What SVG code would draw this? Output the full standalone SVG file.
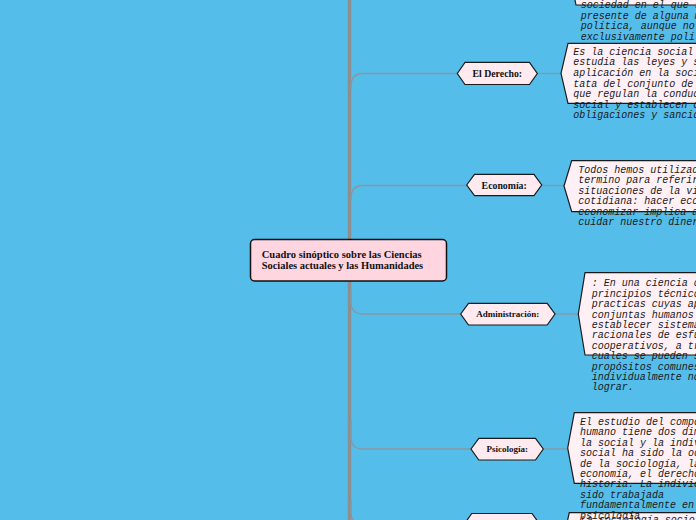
<svg xmlns="http://www.w3.org/2000/svg" width="696" height="520" viewBox="0 0 696 520">
<style>
.bg{fill:#55BDEA}
.trunk{stroke:#8e8e8e;stroke-width:3.5;fill:none}
.br{stroke:#8a97a0;stroke-width:1.3;fill:none}
.hex{fill:#FFEAF0;stroke:#1a1a1a;stroke-width:1.2}
.desc{fill:#FFF0F5;stroke:#1a1a1a;stroke-width:1.2}
.main{fill:#FFD5E0;stroke:#111;stroke-width:1.5}
.lbl{font-family:"Liberation Serif","Times New Roman",serif;font-weight:bold;fill:#111;text-anchor:middle}
.mt{font-family:"Liberation Serif","Times New Roman",serif;font-weight:bold;font-size:10.8px;fill:#111}
.tx{font-family:"Liberation Mono","Courier New",monospace;font-style:italic;font-size:10px;fill:#1a1a1a}
</style>
<rect class="bg" x="0" y="0" width="696" height="520"/>
<g id="connectors">
<line class="trunk" x1="349.5" y1="0" x2="349.5" y2="520"/>
<path class="br" d="M351,90 L351,86 Q351,73.5 363,73.5 H457.3"/>
<path class="br" d="M351,200 L351,198 Q351,185.5 363,185.5 H466.7"/>
<path class="br" d="M351,290 L351,302 Q351,314 363,314 H460.7"/>
<path class="br" d="M351,420 L351,437 Q351,449 363,449 H471"/>
<path class="br" d="M351,500 L351,512 Q351,524.5 363,524.5 H464"/>
<line class="br" x1="537.3" y1="73.5" x2="561" y2="73.5"/>
<line class="br" x1="541.7" y1="185.5" x2="564" y2="185.5"/>
<line class="br" x1="555" y1="314" x2="578.3" y2="314"/>
<line class="br" x1="543.3" y1="449" x2="567.7" y2="449"/>
<line class="br" x1="540" y1="524.5" x2="562" y2="524.5"/>
</g>
<g id="top-node">
<polygon class="desc" points="569,-30 576,-65 760,-65 760,5 576,5"/>
<text class="tx" x="580.7" y="7.7">sociedad en el que s<tspan x="580.7" dy="10.8">presente de alguna m</tspan><tspan x="580.7" dy="10.8">política, aunque no</tspan><tspan x="580.7" dy="10.8">exclusivamente polí</tspan></text>
</g>
<g id="central">
<rect class="main" x="250.5" y="239.5" width="196" height="41.5" rx="4"/>
<text class="mt" x="261.7" y="257.5" textLength="160" lengthAdjust="spacingAndGlyphs">Cuadro sinóptico sobre las Ciencias</text>
<text class="mt" x="261.7" y="268.9" textLength="161.5" lengthAdjust="spacingAndGlyphs">Sociales actuales y las Humanidades</text>
</g>
<g id="derecho">
<polygon class="hex" points="457.3,73.5 465,62.3 529.5,62.3 537.3,73.5 529.5,84.5 465,84.5"/>
<text class="lbl" x="497.3" y="77" font-size="9.8">El Derecho:</text>
<polygon class="desc" points="561,73.3 568,43.3 760,43.3 760,103.3 568,103.3"/>
<text class="tx" x="573.3" y="54.7">Es la ciencia social<tspan x="573.3" dy="10.6">estudia las leyes y s</tspan><tspan x="573.3" dy="10.6">aplicación en la soci</tspan><tspan x="573.3" dy="10.6">tata del conjunto de</tspan><tspan x="573.3" dy="10.6">que regulan la conduc</tspan><tspan x="573.3" dy="10.6">social y establecen o</tspan><tspan x="573.3" dy="10.6">obligaciones y sancio</tspan></text>
</g>
<g id="economia">
<polygon class="hex" points="466.7,185 474.5,174.3 534,174.3 541.7,185 534,195.7 474.5,195.7"/>
<text class="lbl" x="504.2" y="188.5" font-size="9.8">Economía:</text>
<polygon class="desc" points="564,186 571.7,160.7 760,160.7 760,211.7 571.7,211.7"/>
<text class="tx" x="578.3" y="173">Todos hemos utilizad<tspan x="578.3" dy="10.4">termino para referir</tspan><tspan x="578.3" dy="10.4">situaciones de la vi</tspan><tspan x="578.3" dy="10.4">cotidiana: hacer eco</tspan><tspan x="578.3" dy="10.4">economizar implica a</tspan><tspan x="578.3" dy="10.4">cuidar nuestro diner</tspan></text>
</g>
<g id="administracion">
<polygon class="hex" points="460.7,314 468.5,303.3 547.2,303.3 555,314 547.2,325 468.5,325"/>
<text class="lbl" x="507.8" y="317.3" font-size="9">Administración:</text>
<polygon class="desc" points="578.3,314 585,272.7 760,272.7 760,355 585,355"/>
<text class="tx" x="591.7" y="286.3">: En una ciencia c<tspan x="591.7" dy="10.4">principios técnico</tspan><tspan x="591.7" dy="10.4">practicas cuyas ap</tspan><tspan x="591.7" dy="10.4">conjuntas humanos</tspan><tspan x="591.7" dy="10.4">establecer sistema</tspan><tspan x="591.7" dy="10.4">racionales de esfu</tspan><tspan x="591.7" dy="10.4">cooperativos, a tr</tspan><tspan x="591.7" dy="10.4">cuales se pueden s</tspan><tspan x="591.7" dy="10.4">propósitos comunes</tspan><tspan x="591.7" dy="10.4">individualmente no</tspan><tspan x="591.7" dy="10.4">lograr.</tspan></text>
</g>
<g id="sociologia">
<polygon class="hex" points="464,524.5 471.7,513.5 532,513.5 540,524.5 532,535.5 471.7,535.5"/>
<polygon class="desc" points="562,545 569.3,512.7 760,512.7 760,580 569.3,580"/>
<text class="tx" x="580.7" y="523">La sociología sociológi</text>
</g>
<g id="psicologia">
<polygon class="hex" points="471,449 478.8,438.3 535.5,438.3 543.3,449 535.5,460 478.8,460"/>
<text class="lbl" x="507.2" y="452.3" font-size="9">Psicología:</text>
<polygon class="desc" points="567.7,448 574.3,412.7 760,412.7 760,483.3 574.3,483.3"/>
<text class="tx" x="580" y="424.7">El estudio del compo<tspan x="580" dy="10.45">humano tiene dos dim</tspan><tspan x="580" dy="10.45">la social y la indiv</tspan><tspan x="580" dy="10.45">social ha sido la oc</tspan><tspan x="580" dy="10.45">de la sociología, la</tspan><tspan x="580" dy="10.45">economía, el derecho</tspan><tspan x="580" dy="10.45">historia. La individ</tspan><tspan x="580" dy="10.45">sido trabajada</tspan><tspan x="580" dy="10.45">fundamentalmente en</tspan><tspan x="580" dy="10.45">psicología</tspan></text>
</g>
</svg>
